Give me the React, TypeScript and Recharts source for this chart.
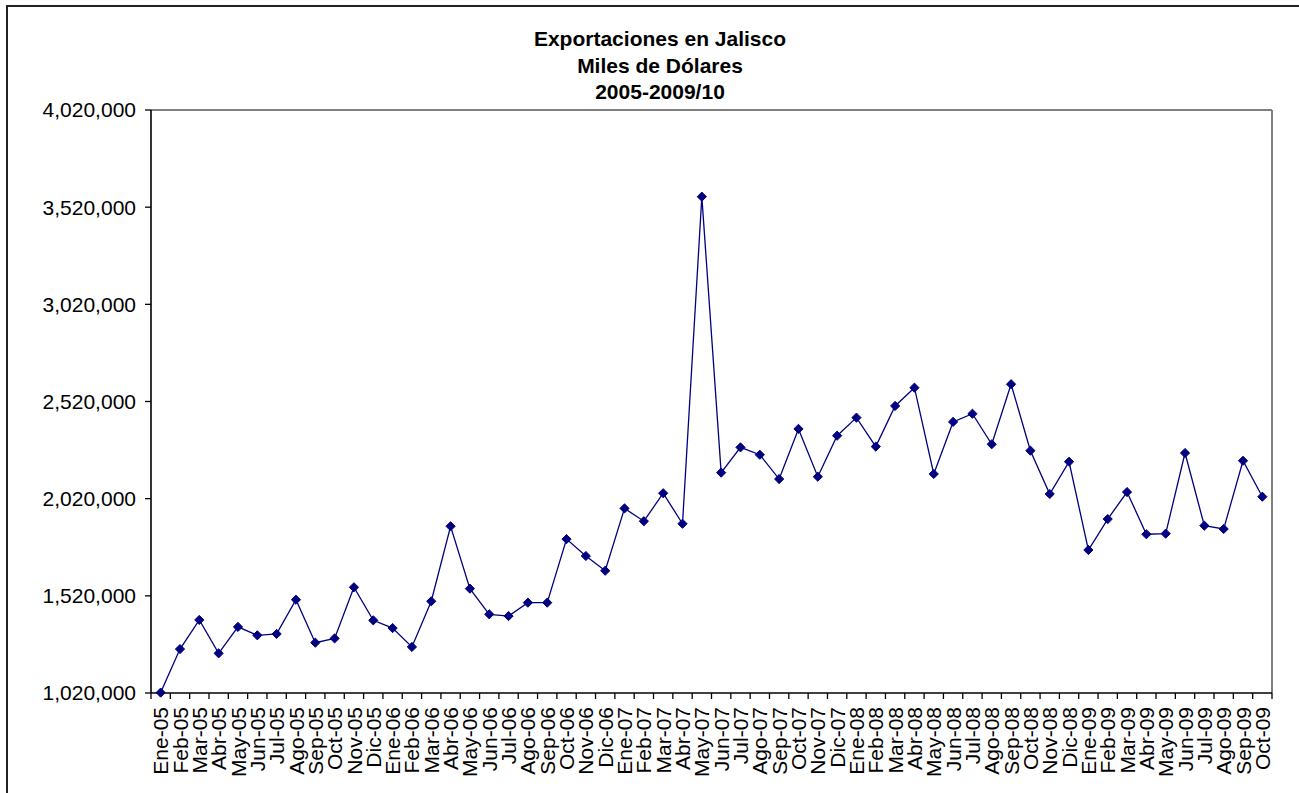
import { LineChart, Line, XAxis, YAxis } from "recharts";

// Monthly labels as shown on the category axis
const MONTHS = [
  "Ene-05", "Feb-05", "Mar-05", "Abr-05", "May-05", "Jun-05", "Jul-05", "Ago-05", "Sep-05", "Oct-05", "Nov-05", "Dic-05",
  "Ene-06", "Feb-06", "Mar-06", "Abr-06", "May-06", "Jun-06", "Jul-06", "Ago-06", "Sep-06", "Oct-06", "Nov-06", "Dic-06",
  "Ene-07", "Feb-07", "Mar-07", "Abr-07", "May-07", "Jun-07", "Jul-07", "Ago-07", "Sep-07", "Oct-07", "Nov-07", "Dic-07",
  "Ene-08", "Feb-08", "Mar-08", "Abr-08", "May-08", "Jun-08", "Jul-08", "Ago-08", "Sep-08", "Oct-08", "Nov-08", "Dic-08",
  "Ene-09", "Feb-09", "Mar-09", "Abr-09", "May-09", "Jun-09", "Jul-09", "Ago-09", "Sep-09", "Oct-09",
];

// Exports in thousands of dollars
const EXPORTS = [
  1022000, 1246000, 1396000, 1224000, 1360000, 1317000, 1324000, 1500000, 1279000, 1301000, 1564000, 1394000,
  1354000, 1257000, 1492000, 1878000, 1557000, 1425000, 1416000, 1485000, 1485000, 1812000, 1725000, 1649000,
  1970000, 1904000, 2048000, 1891000, 3574000, 2154000, 2284000, 2246000, 2121000, 2379000, 2133000, 2344000,
  2437000, 2288000, 2497000, 2591000, 2147000, 2415000, 2457000, 2300000, 2609000, 2267000, 2044000, 2210000,
  1756000, 1915000, 2054000, 1837000, 1840000, 2255000, 1881000, 1864000, 2215000, 2030000,
];

const Y_TICKS = [1020000, 1520000, 2020000, 2520000, 3020000, 3520000, 4020000];

const TITLE_LINES = ["Exportaciones en Jalisco", "Miles de Dólares", "2005-2009/10"];

const FONT = "'Liberation Sans', Arial, sans-serif";
const WIDTH = 1299;
const HEIGHT = 793;
const MARGIN = { top: 109, right: 26, left: 0, bottom: 0 };
const Y_AXIS_W = 151;
const PLOT_W = WIDTH - 27 - Y_AXIS_W;
const BAND = PLOT_W / MONTHS.length;
const Y_DOMAIN = [1020000, 4020000];

const data = MONTHS.map((month, i) => ({ month, value: EXPORTS[i] }));

const fmt = (v: number) => v.toLocaleString("en-US");

function Diamond(props: any) {
  const { cx, cy } = props;
  if (cx == null || cy == null) return null;
  const r = 4.6;
  return (
    <polygon
      points={`${cx},${cy - r} ${cx + r},${cy} ${cx},${cy + r} ${cx - r},${cy}`}
      fill="#000080"
      stroke="#000080"
      strokeWidth={1}
    />
  );
}

function MonthTick(props: any) {
  const { x, y, payload, index } = props;
  const half = BAND / 2;
  const last = index === MONTHS.length - 1;
  return (
    <g>
      <line x1={x - half} y1={y} x2={x - half} y2={y + 6} stroke="#000" strokeWidth={1.3} />
      {last && <line x1={x + half} y1={y} x2={x + half} y2={y + 6} stroke="#000" strokeWidth={1.3} />}
      <text
        transform={`translate(${x},${y + 14}) rotate(-90)`}
        textAnchor="end"
        dy="0.36em"
        fontSize={21}
        fontFamily={FONT}
        fill="#000"
      >
        {payload.value}
      </text>
    </g>
  );
}

export default function App() {
  return (
    <div style={{ position: "absolute", left: 0, top: 0, width: WIDTH, height: HEIGHT, background: "#fff", overflow: "hidden" }}>
      <div
        style={{
          position: "absolute",
          left: 6,
          top: 5,
          width: WIDTH,
          height: HEIGHT,
          borderLeft: "2px solid #222",
          borderTop: "2px solid #222",
        }}
      />
      <div
        style={{
          position: "absolute",
          left: 660 - 300,
          top: 26,
          width: 600,
          textAlign: "center",
          fontFamily: FONT,
          fontWeight: "bold",
          fontSize: 21,
          lineHeight: "26.5px",
          color: "#000",
        }}
      >
        {TITLE_LINES.map((t) => (
          <div key={t}>{t}</div>
        ))}
      </div>
      <div style={{ position: "absolute", left: 0, top: 0 }}>
        <LineChart width={WIDTH} height={HEIGHT} data={data} margin={MARGIN}>
          <XAxis
            xAxisId="top"
            orientation="top"
            dataKey="month"
            height={1}
            tick={false}
            tickLine={false}
            axisLine={{ stroke: "#808080", strokeWidth: 2 }}
            padding={{ left: BAND / 2, right: BAND / 2 }}
          />
          <YAxis
            yAxisId="right"
            orientation="right"
            width={1}
            domain={Y_DOMAIN}
            tick={false}
            tickLine={false}
            axisLine={{ stroke: "#808080", strokeWidth: 2 }}
          />
          <XAxis
            dataKey="month"
            interval={0}
            height={HEIGHT - 693}
            tickSize={0}
            tickMargin={0}
            tickLine={false}
            axisLine={{ stroke: "#000", strokeWidth: 1.6 }}
            tick={<MonthTick />}
            padding={{ left: BAND / 2, right: BAND / 2 }}
          />
          <YAxis
            width={Y_AXIS_W}
            domain={Y_DOMAIN}
            ticks={Y_TICKS}
            interval={0}
            tickFormatter={fmt}
            tickSize={6}
            tickMargin={9}
            tickLine={{ stroke: "#000", strokeWidth: 1.3 }}
            axisLine={{ stroke: "#000", strokeWidth: 1.6 }}
            tick={{ fontSize: 21, fontFamily: FONT, fill: "#000" }}
          />
          {/* invisible series so the gray frame axes get drawn */}
          <Line
            xAxisId="top"
            yAxisId="right"
            dataKey="value"
            stroke="none"
            dot={false}
            activeDot={false}
            isAnimationActive={false}
          />
          <Line
            type="linear"
            dataKey="value"
            stroke="#000080"
            strokeWidth={1.3}
            dot={<Diamond />}
            activeDot={false}
            isAnimationActive={false}
          />
        </LineChart>
      </div>
    </div>
  );
}
